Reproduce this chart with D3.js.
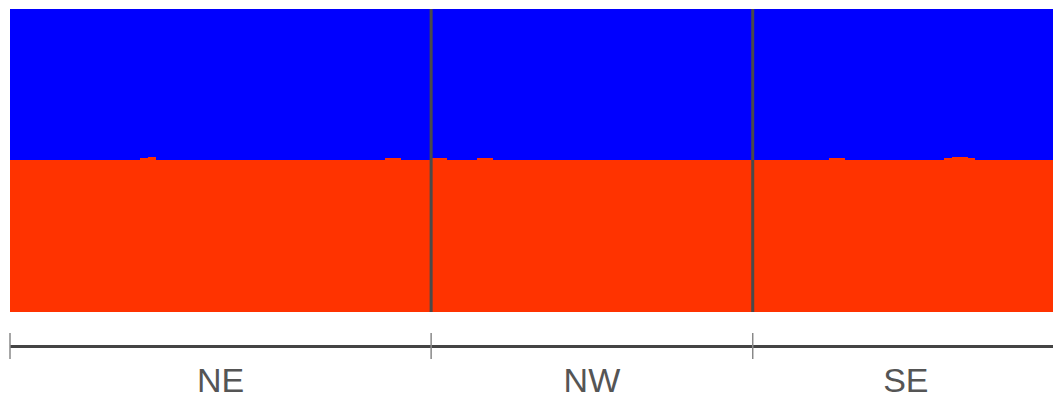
<!DOCTYPE html>
<html>
<head>
<meta charset="utf-8">
<title>Admixture</title>
<script src="https://cdn.jsdelivr.net/npm/d3@7"></script>
<style>
  body { margin: 0; background: #fff; }
  svg { display: block; }
</style>
</head>
<body>
<script>
// populations and the red (cluster 2) share of each individual, blue is the rest
var groups = ["NE", "NW", "SE"];
var redNE = [
  0.502, 0.502, 0.502, 0.502, 0.502, 0.502, 0.502, 0.502, 0.502, 0.502,
  0.502, 0.502, 0.502, 0.502, 0.502, 0.502, 0.502, 0.509, 0.510, 0.502,
  0.502, 0.502, 0.502, 0.502, 0.502, 0.502, 0.502, 0.502, 0.502, 0.502,
  0.502, 0.502, 0.502, 0.502, 0.502, 0.502, 0.502, 0.502, 0.502, 0.502,
  0.502, 0.502, 0.502, 0.502, 0.502, 0.502, 0.502, 0.502, 0.502, 0.508,
  0.509, 0.502, 0.502, 0.502, 0.502
];
var redNW = [
  0.509, 0.508, 0.502, 0.502, 0.502, 0.502, 0.509, 0.509, 0.502, 0.502,
  0.502, 0.502, 0.502, 0.502, 0.502, 0.502, 0.502, 0.502, 0.502, 0.502,
  0.502, 0.502, 0.502, 0.502, 0.502, 0.502, 0.502, 0.502, 0.502, 0.502,
  0.502, 0.502, 0.502, 0.502, 0.502, 0.502, 0.502, 0.502, 0.502, 0.502,
  0.502, 0.502
];
var redSE = [
  0.502, 0.502, 0.502, 0.502, 0.502, 0.502, 0.502, 0.502, 0.502, 0.502,
  0.509, 0.509, 0.502, 0.502, 0.502, 0.502, 0.502, 0.502, 0.502, 0.502,
  0.502, 0.502, 0.502, 0.502, 0.502, 0.509, 0.510, 0.510, 0.509, 0.502,
  0.502, 0.502, 0.502, 0.502, 0.502, 0.502, 0.502, 0.502, 0.502, 0.502
];
var colors = ["#0000ff", "#ff3300"];

var w = 1053, h = 398;
var svg = d3.select("body").append("svg")
    .attr("width", w)
    .attr("height", h);

var popData = [redNE, redNW, redSE];
var inds = [];
popData.forEach(function(arr, gi) {
  arr.forEach(function(r) { inds.push({ group: groups[gi], red: r }); });
});

var x = d3.scaleBand()
    .domain(d3.range(inds.length))
    .range([10, 1059])
    .padding(0);
var y = d3.scaleLinear().domain([0, 1]).range([312, 9]);

var bars = svg.append("g").attr("shape-rendering", "crispEdges");

// blue part on top
bars.selectAll("rect.blue")
  .data(inds)
  .enter().append("rect")
    .attr("class", "blue")
    .attr("x", function(d, i) { return x(i); })
    .attr("width", x.bandwidth() + 0.6)
    .attr("y", y(1))
    .attr("height", function(d) { return y(d.red) - y(1); })
    .attr("fill", colors[0]);

// red part below
bars.selectAll("rect.red")
  .data(inds)
  .enter().append("rect")
    .attr("class", "red")
    .attr("x", function(d, i) { return x(i); })
    .attr("width", x.bandwidth() + 0.6)
    .attr("y", function(d) { return y(d.red); })
    .attr("height", function(d) { return y(0) - y(d.red); })
    .attr("fill", colors[1]);

// group start / end index
var bounds = [];
var start = 0;
popData.forEach(function(arr, gi) {
  bounds.push({ name: groups[gi], start: start, end: start + arr.length });
  start += arr.length;
});
function xpos(i) { return i < inds.length ? x(i) : x.range()[1]; }

// separators between populations
svg.selectAll("line.sep")
  .data(bounds.slice(1))
  .enter().append("line")
    .attr("class", "sep")
    .attr("x1", function(d) { return xpos(d.start); })
    .attr("x2", function(d) { return xpos(d.start); })
    .attr("y1", y(1))
    .attr("y2", y(0))
    .attr("stroke", "#4a4a4a")
    .attr("stroke-width", 3);

// population axis
var axisY = 346.5;
svg.append("line")
    .attr("x1", x.range()[0])
    .attr("x2", x.range()[1])
    .attr("y1", axisY)
    .attr("y2", axisY)
    .attr("stroke", "#444")
    .attr("stroke-width", 3);

svg.selectAll("line.tick")
  .data(bounds)
  .enter().append("line")
    .attr("class", "tick")
    .attr("x1", function(d) { return xpos(d.start); })
    .attr("x2", function(d) { return xpos(d.start); })
    .attr("y1", 333)
    .attr("y2", 359)
    .attr("stroke", "#888")
    .attr("stroke-width", 1.5);

svg.selectAll("text.lab")
  .data(bounds)
  .enter().append("text")
    .attr("class", "lab")
    .attr("x", function(d) { return (xpos(d.start) + xpos(d.end)) / 2; })
    .attr("y", 392)
    .attr("text-anchor", "middle")
    .attr("font-family", "Liberation Sans, Arial, sans-serif")
    .attr("font-size", 34)
    .attr("fill", "#555")
    .text(function(d) { return d.name; });
</script>
</body>
</html>
